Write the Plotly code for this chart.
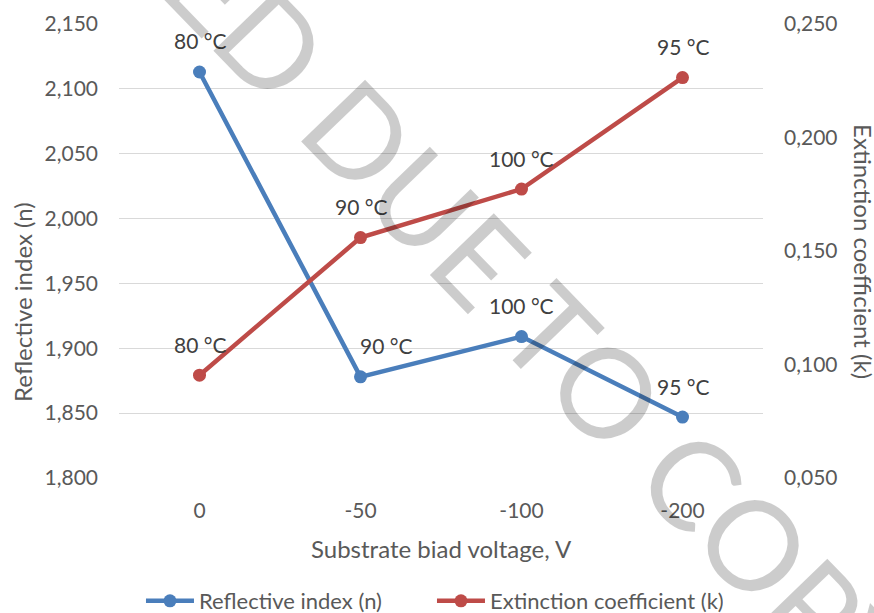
import plotly.graph_objects as go

# Substrate bias voltage categories and deposition temperatures
voltages = ["0", "-50", "-100", "-200"]
temps = ["80 °C", "90 °C", "100 °C", "95 °C"]

# Optical constants
refr_index = [2.113, 1.878, 1.909, 1.847]      # n, left axis
ext_coeff = [0.0953, 0.1559, 0.1773, 0.2264]   # k, right axis

BLUE = "#4A7EBB"
RED = "#BE4B48"
TXT = "#595959"
LBL = "#404040"
FONT = "Lato"

fig = go.Figure()
fig.add_trace(go.Scatter(
    x=voltages, y=refr_index, name="Reflective index (n)",
    mode="lines+markers", yaxis="y",
    line=dict(color=BLUE, width=4.5), marker=dict(color=BLUE, size=13),
))
fig.add_trace(go.Scatter(
    x=voltages, y=ext_coeff, name="Extinction coefficient (k)",
    mode="lines+markers", yaxis="y2",
    line=dict(color=RED, width=4.5), marker=dict(color=RED, size=13),
))

annotations = []
# temperature labels above each point (category positions by index)
for i, t in enumerate(temps):
    annotations.append(dict(
        x=i, y=refr_index[i], xref="x", yref="y", text=t, showarrow=False,
        xanchor="center", yanchor="middle",
        yshift=31, xshift=25 if i == 1 else 0,
        font=dict(family=FONT, size=21, color=LBL),
    ))
    annotations.append(dict(
        x=i, y=ext_coeff[i], xref="x", yref="y2", text=t, showarrow=False,
        xanchor="center", yanchor="middle",
        yshift=31, font=dict(family=FONT, size=21, color=LBL),
    ))

# axis titles
annotations += [
    dict(x=-0.149, y=0.388, xref="paper", yref="paper", text="Reflective index (n)",
         textangle=-90, showarrow=False, xanchor="center", yanchor="middle",
         font=dict(family=FONT, size=24, color=TXT)),
    dict(x=1.155, y=0.498, xref="paper", yref="paper", text="Extinction coefficient (k)",
         textangle=90, showarrow=False, xanchor="center", yanchor="middle",
         font=dict(family=FONT, size=24, color=TXT)),
    dict(x=0.5, y=-0.156, xref="paper", yref="paper", text="Substrate biad voltage, V",
         showarrow=False, xanchor="center", yanchor="middle",
         font=dict(family=FONT, size=24, color=TXT)),
]

# watermark
annotations.append(dict(
    x=0.6165, y=0.403, xref="paper", yref="paper", text="REMOVED DUE TO COPYRIGHT",
    textangle=46, showarrow=False, xanchor="center", yanchor="middle",
    font=dict(family=FONT, size=124, color="rgba(0,0,0,0.2)"),
))

fig.update_layout(
    width=874, height=613,
    margin=dict(l=119, r=111, t=24, b=135, autoexpand=False),
    paper_bgcolor="white", plot_bgcolor="white",
    separators=", ",
    font=dict(family=FONT, color=TXT),
    xaxis=dict(
        type="category", range=[-0.5, 3.5], showgrid=False, zeroline=False,
        showline=False, ticks="", ticklabelstandoff=18,
        tickfont=dict(family=FONT, size=21, color=TXT),
    ),
    yaxis=dict(
        range=[1.8, 2.15], dtick=0.05, tick0=1.8, tickformat=".3f",
        showgrid=True, gridcolor="#D9D9D9", gridwidth=1.3, zeroline=False,
        showline=False, ticks="", ticklabelstandoff=20,
        tickfont=dict(family=FONT, size=21, color=TXT),
    ),
    yaxis2=dict(
        range=[0.05, 0.25], dtick=0.05, tick0=0.05, tickformat=".3f",
        overlaying="y", side="right", showgrid=False, zeroline=False,
        showline=False, ticks="", ticklabelstandoff=20,
        tickfont=dict(family=FONT, size=21, color=TXT),
    ),
    showlegend=True,
    legend=dict(
        orientation="h", x=0.486, xanchor="center", y=-0.271, yanchor="middle",
        font=dict(family=FONT, size=22, color=TXT), itemwidth=48,
        entrywidth=228, entrywidthmode="pixels",
        bgcolor="rgba(0,0,0,0)",
    ),
    annotations=annotations,
)

fig.write_html("out.html")
